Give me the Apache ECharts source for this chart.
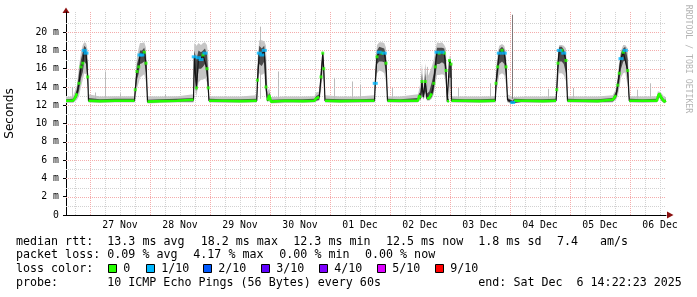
<!DOCTYPE html>
<html>
<head>
<meta charset="utf-8">
<script src="https://cdn.jsdelivr.net/npm/echarts@6/dist/echarts.min.js"></script>
<style>html,body{margin:0;padding:0;background:#fff;}#c{width:697px;height:297px;}</style>
</head>
<body>
<div id="c"></div>
<script>
// ---- data (x = hours since 27 Nov 00:00) ----
const times = [
  -9.6, -6.8, -6.0, -5.2, -4.4, -3.6, -2.9, -2.3, -1.6, -0.9, -0.6,
  4.0, 10.0, 17.8, 18.1, 18.8, 19.5, 20.0, 20.8, 21.7, 22.4, 23.0,
  28.0, 35.0, 41.4, 41.7, 42.6, 43.4, 44.4, 45.2, 46.0, 46.8, 47.3, 47.6,
  53.0, 60.0, 66.7, 67.0, 67.7, 68.7, 69.7, 70.4, 71.0, 71.7, 72.4,
  78.0, 85.0, 89.8, 90.4, 91.7, 92.4, 93.1, 93.5, 94.0,
  100.0, 107.0, 113.8, 114.1, 114.8, 115.7, 116.8, 117.7, 118.4, 119.0,
  124.0, 131.2, 131.7, 132.2, 132.8, 133.3, 134.1, 134.8, 135.7, 136.7, 137.5, 138.1, 138.8, 139.7, 140.8, 141.7, 142.4, 142.9, 143.6, 143.8, 144.4, 144.6,
  150.0, 156.0, 162.1, 162.4, 163.1, 163.7, 164.8, 165.7, 166.4, 167.0, 169.1, 169.6,
  175.0, 181.0, 186.4, 186.7, 187.2, 187.7, 188.7, 189.5, 190.4, 191.0,
  197.0, 203.0, 209.1, 210.4, 211.1, 211.7, 212.4, 213.3, 214.1, 215.1, 215.7,
  221.0, 226.8, 227.1, 227.7, 228.7, 229.7, 230.4
];
const median = [
  12.5, 12.5, 12.8, 13.3, 14.4, 16.2, 16.6, 18.0, 17.7, 15.1, 12.5,
  12.45, 12.5, 12.5, 13.7, 15.7, 16.2, 17.5, 17.5, 17.8, 16.6, 12.4,
  12.45, 12.5, 12.6, 17.3, 13.9, 17.2, 17.0, 17.5, 17.7, 16.0, 13.9, 12.5,
  12.5, 12.45, 12.5, 14.75, 17.7, 17.5, 18.0, 14.0, 12.5, 13.1, 12.4,
  12.5, 12.45, 12.5, 12.75, 12.9, 15.1, 17.7, 16.0, 12.5,
  12.45, 12.5, 12.5, 14.4, 17.3, 17.8, 17.7, 17.7, 16.6, 12.5,
  12.5, 12.5, 13.1, 12.8, 14.6, 12.9, 14.6, 12.75, 12.8, 13.3, 14.4, 16.2, 17.8, 17.7, 17.8, 17.7, 15.8, 12.4, 12.5, 16.9, 16.5, 12.5,
  12.5, 12.45, 12.5, 14.4, 16.2, 17.7, 18.0, 17.7, 16.2, 12.6, 12.3, 12.5,
  12.5, 12.45, 12.5, 13.7, 16.6, 18.0, 18.0, 17.7, 16.9, 12.5,
  12.5, 12.45, 12.6, 13.1, 14.2, 15.5, 17.1, 17.8, 18.0, 15.8, 12.5,
  12.5, 12.5, 12.9, 13.3, 12.75, 12.4, 12.5
];
// lost pings out of 10 per sample
const lossCount = [
  0,0,0,0,0,0,0,1,1,0,0,
  0,0,0,0,0,0,1,1,0,0,0,
  0,0,0,1,0,1,1,0,1,0,0,0,
  0,0,0,0,1,1,1,0,0,0,0,
  0,0,0,0,0,0,0,0,0,
  0,0,0,1,0,1,0,1,0,0,
  0,0,0,0,0,0,0,0,0,0,0,0,1,0,1,0,0,0,0,0,0,0,
  0,0,0,0,0,1,0,1,0,0,1,0,
  0,0,0,0,0,1,0,1,0,0,
  0,0,0,0,0,0,1,0,1,0,0,
  0,0,0,0,0,0,0
];
const smokeLo = [
  12.25, 12.25, 12.4, 12.6, 13.0, 14.0, 14.8, 15.5, 15.4, 14.0, 12.3,
  12.25, 12.3, 12.3, 12.8, 13.8, 14.5, 15.0, 15.2, 15.4, 14.5, 12.2,
  12.25, 12.3, 12.3, 14.0, 13.0, 14.5, 14.8, 14.8, 15.0, 14.5, 13.0, 12.3,
  12.25, 12.25, 12.3, 13.5, 15.5, 15.3, 15.5, 13.0, 12.3, 12.5, 12.2,
  12.25, 12.25, 12.3, 12.4, 12.5, 13.5, 15.5, 14.5, 12.3,
  12.25, 12.25, 12.3, 13.5, 15.5, 15.8, 15.7, 15.5, 14.5, 12.3,
  12.25, 12.3, 12.6, 12.5, 13.0, 12.6, 13.0, 12.5, 12.5, 12.7, 13.2, 14.2, 15.3, 15.3, 15.4, 15.3, 14.0, 12.3, 12.3, 14.0, 14.0, 12.3,
  12.25, 12.25, 12.3, 13.2, 14.3, 15.3, 15.5, 15.3, 14.3, 12.3, 12.1, 12.3,
  12.25, 12.25, 12.3, 12.8, 14.5, 15.5, 15.5, 15.3, 14.6, 12.3,
  12.25, 12.25, 12.3, 12.6, 13.0, 13.8, 15.0, 15.5, 15.6, 14.0, 12.3,
  12.25, 12.3, 12.5, 12.8, 12.4, 12.2, 12.3
];
const smokeHi = [
  12.9, 13.0, 13.6, 14.2, 16.3, 17.8, 18.6, 18.9, 18.8, 18.0, 13.2,
  12.95, 13.0, 13.0, 15.0, 17.3, 18.3, 18.8, 18.8, 18.9, 18.3, 13.0,
  12.95, 13.0, 13.2, 18.8, 18.5, 18.8, 18.6, 18.8, 18.9, 18.6, 17.5, 13.0,
  12.95, 12.95, 13.1, 17.0, 19.1, 19.1, 19.0, 18.5, 13.5, 13.9, 12.9,
  12.95, 12.95, 13.0, 13.4, 13.5, 16.5, 18.0, 17.6, 13.1,
  12.95, 12.95, 13.1, 16.5, 18.6, 18.9, 18.9, 18.8, 18.3, 13.0,
  12.95, 13.2, 13.8, 14.5, 16.6, 14.0, 16.6, 15.0, 15.5, 16.2, 17.0, 18.0, 18.9, 18.8, 18.9, 18.6, 18.2, 13.0, 13.0, 17.4, 17.2, 13.0,
  12.95, 12.95, 13.0, 16.0, 17.8, 18.5, 18.7, 18.5, 17.8, 13.2, 12.9, 12.9,
  12.95, 12.95, 13.0, 15.0, 17.8, 18.6, 18.6, 18.5, 18.2, 13.0,
  12.95, 12.95, 13.1, 13.8, 15.3, 16.8, 18.0, 18.6, 18.6, 18.2, 13.0,
  12.95, 13.0, 13.5, 13.5, 13.3, 12.9, 12.9
];
const coreLo = [
  12.35, 12.35, 12.6, 12.9, 13.6, 15.0, 15.6, 16.8, 16.5, 14.5, 12.4,
  12.35, 12.4, 12.4, 13.2, 14.8, 15.5, 16.5, 16.6, 16.8, 15.5, 12.3,
  12.35, 12.4, 12.4, 15.5, 13.5, 16.0, 16.0, 16.2, 16.5, 15.0, 13.5, 12.4,
  12.35, 12.35, 12.4, 14.0, 16.5, 16.3, 16.8, 13.5, 12.4, 12.8, 12.3,
  12.35, 12.35, 12.4, 12.5, 12.6, 14.2, 16.5, 15.0, 12.4,
  12.35, 12.35, 12.4, 14.0, 16.5, 16.8, 16.8, 16.7, 15.5, 12.4,
  12.35, 12.4, 12.8, 12.6, 13.5, 12.7, 13.5, 12.6, 12.6, 12.9, 13.6, 15.0, 16.5, 16.5, 16.7, 16.5, 14.8, 12.35, 12.4, 15.0, 15.0, 12.4,
  12.35, 12.35, 12.4, 13.7, 15.2, 16.5, 16.8, 16.5, 15.2, 12.4, 12.2, 12.4,
  12.35, 12.35, 12.4, 13.2, 15.5, 16.8, 16.8, 16.5, 15.5, 12.4,
  12.35, 12.35, 12.4, 12.8, 13.5, 14.5, 16.0, 16.8, 16.9, 14.8, 12.4,
  12.35, 12.4, 12.6, 12.9, 12.5, 12.3, 12.4
];
const coreHi = [
  12.65, 12.7, 13.1, 13.8, 15.5, 17.0, 17.8, 18.5, 18.3, 16.5, 12.8,
  12.65, 12.7, 12.7, 14.2, 16.5, 17.2, 18.0, 18.0, 18.3, 17.5, 12.6,
  12.65, 12.7, 12.8, 18.0, 17.0, 18.0, 17.8, 18.0, 18.2, 17.5, 15.5, 12.7,
  12.65, 12.65, 12.7, 16.0, 18.5, 18.2, 18.5, 16.5, 12.8, 13.4, 12.6,
  12.65, 12.65, 12.7, 13.0, 13.2, 15.8, 17.9, 16.8, 12.7,
  12.65, 12.65, 12.7, 15.5, 18.0, 18.4, 18.3, 18.2, 17.4, 12.7,
  12.65, 12.8, 13.4, 13.2, 15.5, 13.3, 15.5, 13.3, 13.5, 14.5, 15.5, 17.2, 18.3, 18.3, 18.3, 18.2, 17.0, 12.7, 12.7, 17.0, 16.8, 12.7,
  12.65, 12.65, 12.7, 15.2, 17.0, 18.1, 18.4, 18.1, 17.0, 12.8, 12.5, 12.7,
  12.65, 12.65, 12.7, 14.3, 17.3, 18.4, 18.4, 18.1, 17.5, 12.7,
  12.65, 12.65, 12.8, 13.5, 14.8, 16.2, 17.7, 18.2, 18.4, 17.0, 12.7,
  12.65, 12.7, 13.2, 13.3, 13.0, 12.6, 12.6
];
// single outlier pings (thin vertical smoke lines)
const spikeBase = 12.7;
const spikeTimes = [-7.2, 2.0, 5.8, 12.0, 30.0, 68.0, 75.2, 97.7, 104.8, 108.0, 120.7, 134.7, 147.2, 160.0, 168.9, 183.2, 193.3, 218.7, 224.0];
const spikeTops  = [14.0, 13.4, 15.7, 13.3, 13.2, 20.6, 15.7, 15.0, 14.6, 14.2, 13.9, 16.2, 13.9, 14.4, 21.9, 13.8, 13.9, 13.7, 14.4];

const dayLabels = ['27 Nov','28 Nov','29 Nov','30 Nov','01 Dec','02 Dec','03 Dec','04 Dec','05 Dec','06 Dec'];
const yTickValues = [0, 2, 4, 6, 8, 10, 12, 14, 16, 18, 20];

const rttLabel = 'median rtt:';
const rttStats = ['13.3 ms avg', '18.2 ms max', '12.3 ms min', '12.5 ms now', '1.8 ms sd', '7.4', 'am/s'];
const lossLabel = 'packet loss:';
const lossStats = ['0.09 % avg', '4.17 % max', '0.00 % min', '0.00 % now'];
const colorLabel = 'loss color:';
const lossLevels = ['0', '1/10', '2/10', '3/10', '4/10', '5/10', '9/10'];
const lossColors = ['#26ff00', '#00b8ff', '#0059ff', '#5e00ff', '#7e00ff', '#dd00ff', '#ff0000'];
const probeText = 'probe:       10 ICMP Echo Pings (56 Bytes) every 60s';
const endText = 'end: Sat Dec  6 14:22:23 2025';
const watermark = 'RRDTOOL / TOBI OETIKER';

// ---- build ----
const MONO = '"DejaVu Sans Mono", monospace';
const LF = 11.66;
const X_MIN = -9.6, X_MAX = 230.4, Y_MIN = 0, Y_MAX = 22.2;
const chart = echarts.init(document.getElementById('c'), null, {renderer: 'canvas'});

// grid lines: [orientation, value, major]
const gridDefs = [];
for (let v = 1; v <= 21; v++) gridDefs.push([0, v, v % 2 === 0 ? 1 : 0]);
for (let t = -6; t <= 228; t += 6) gridDefs.push([1, t, t % 24 === 0 ? 1 : 0]);

const pair = (arr) => times.map((t, i) => [t, arr[i]]);
const greenLine = times.map((t, i) => [t, (lossCount[i] === 0 && median[i] < 13.5) ? median[i] : '-']);
const greenPts = times.map((t, i) => [t, median[i]]).filter((p, i) => lossCount[i] === 0 && median[i] >= 13.5);
const bluePts = times.map((t, i) => [t, median[i]]).filter((p, i) => lossCount[i] === 1);

function bandSeries(name, lo, hi, color, z) {
  return {
    type: 'custom', name: name, z: z, silent: true,
    data: [[times[0], lo[0]]],
    renderItem: (params, api) => {
      const pts = [];
      for (let i = 0; i < times.length; i++) pts.push(api.coord([times[i], hi[i]]));
      for (let i = times.length - 1; i >= 0; i--) pts.push(api.coord([times[i], lo[i]]));
      return {type: 'polygon', shape: {points: pts}, style: {fill: color}};
    }
  };
}

const graphics = [];
function txt(x, y, s) {
  graphics.push({type: 'text', x: x, y: y, silent: true,
    style: {text: s, fontFamily: MONO, fontSize: LF, fill: '#000', verticalAlign: 'middle', align: 'left'}});
}
txt(16, 241.5, rttLabel);
const rttX = [107.3, 200.7, 293.3, 386, 478.3, 557, 600];
rttStats.forEach((s, i) => txt(rttX[i], 241.5, s));
txt(16, 255.3, lossLabel);
const lossX = [107.3, 193.3, 279.3, 365];
lossStats.forEach((s, i) => txt(lossX[i], 255.3, s));
txt(16, 269.3, colorLabel);
const boxX = [108.5, 146.5, 203.5, 261.5, 319.5, 377.5, 435.5];
lossLevels.forEach((s, i) => {
  graphics.push({type: 'rect', shape: {x: boxX[i], y: 264.5, width: 8, height: 8}, silent: true,
    style: {fill: lossColors[i], stroke: '#000', lineWidth: 1}});
  txt(boxX[i] + 14.8, 269.3, s);
});
txt(16, 283, probeText);
txt(478.3, 283, endText);
graphics.push({type: 'text', x: 688, y: 59, rotation: -Math.PI / 2, silent: true,
  style: {text: watermark, fontFamily: MONO, fontSize: 8.2, fill: '#b4b4b4', align: 'center', verticalAlign: 'middle'}});
graphics.push({type: 'polygon', silent: true, shape: {points: [[62.5, 13], [69.5, 13], [66, 7.5]]}, style: {fill: '#8b1010'}});
graphics.push({type: 'polygon', silent: true, shape: {points: [[667, 211.5], [667, 218.5], [673.5, 215]]}, style: {fill: '#8b1010'}});

const option = {
  animation: false,
  backgroundColor: '#ffffff',
  grid: {left: 66, right: 31, top: 12, bottom: 82, containLabel: false, outerBoundsMode: 'none'},
  xAxis: {
    type: 'value', min: X_MIN, max: X_MAX,
    axisLine: {show: true, onZero: false, lineStyle: {color: '#000', width: 1}},
    axisTick: {show: false},
    splitLine: {show: false},
    axisLabel: {
      customValues: dayLabels.map((d, i) => 12 + 24 * i),
      formatter: (v) => dayLabels[Math.round((v - 12) / 24)] || '',
      fontFamily: MONO, fontSize: 9.8, color: '#000', margin: 5
    }
  },
  yAxis: {
    type: 'value', min: Y_MIN, max: Y_MAX,
    name: 'Seconds', nameLocation: 'middle', nameRotate: 90, nameGap: 50,
    nameTextStyle: {fontFamily: '"DejaVu Sans", sans-serif', fontSize: 12, color: '#000'},
    axisLine: {show: true, onZero: false, lineStyle: {color: '#000', width: 1}},
    axisTick: {show: true, length: 3, customValues: yTickValues, lineStyle: {color: '#000'}},
    splitLine: {show: false},
    axisLabel: {
      customValues: yTickValues,
      formatter: (v) => v === 0 ? '0' : v + ' m',
      fontFamily: MONO, fontSize: 9.8, color: '#000', margin: 7
    }
  },
  graphic: graphics,
  series: [
    {type: 'custom', name: 'grid', z: 1, silent: true, clip: false,
      data: gridDefs,
      renderItem: (params, api) => {
        const o = api.value(0), v = api.value(1), major = api.value(2);
        let a, b;
        if (o === 0) { a = api.coord([X_MIN, v]); b = api.coord([X_MAX, v]);
          const y = Math.round(a[1]) + 0.5; a = [a[0], y]; b = [b[0], y]; }
        else { a = api.coord([v, Y_MIN]); b = api.coord([v, Y_MAX]);
          const x = Math.round(a[0]) + 0.5; a = [x, a[1]]; b = [x, b[1]]; }
        return {type: 'line', shape: {x1: a[0], y1: a[1], x2: b[0], y2: b[1]},
          style: {stroke: major ? '#f4acac' : '#d2d2d2', lineWidth: 1, lineDash: [1, 1]}};
      }},
    bandSeries('smoke', smokeLo, smokeHi, '#c6c6c6', 2),
    {type: 'custom', name: 'spikes', z: 3, silent: true,
      data: spikeTimes.map((t, i) => [t, spikeTops[i]]),
      renderItem: (params, api) => {
        const t = api.value(0), top = api.value(1);
        const p0 = api.coord([t, spikeBase]);
        const p1 = api.coord([t, top]);
        const x = Math.round(p0[0]) + 0.5;
        return {type: 'line', shape: {x1: x, y1: p0[1], x2: x, y2: p1[1]},
          style: {stroke: top > 21 ? '#807878' : '#bcbcbc', lineWidth: 1}};
      }},
    bandSeries('smoke core', coreLo, coreHi, '#4b4b4b', 4),
    {type: 'line', name: 'median', data: pair(median), symbol: 'none', z: 5, silent: true,
      lineStyle: {color: '#141414', width: 1.2}},
    {type: 'line', name: 'loss 0', data: greenLine, symbol: 'none', z: 6, silent: true, connectNulls: false,
      lineStyle: {color: lossColors[0], width: 2.6}},
    {type: 'scatter', name: 'loss 0 pts', data: greenPts, symbol: 'rect', symbolSize: [3, 3], z: 6, silent: true,
      itemStyle: {color: lossColors[0]}},
    {type: 'scatter', name: 'loss 1/10', data: bluePts, symbol: 'rect', symbolSize: [5, 3], z: 7, silent: true,
      itemStyle: {color: lossColors[1]}}
  ]
};
chart.setOption(option);
</script>
</body>
</html>
